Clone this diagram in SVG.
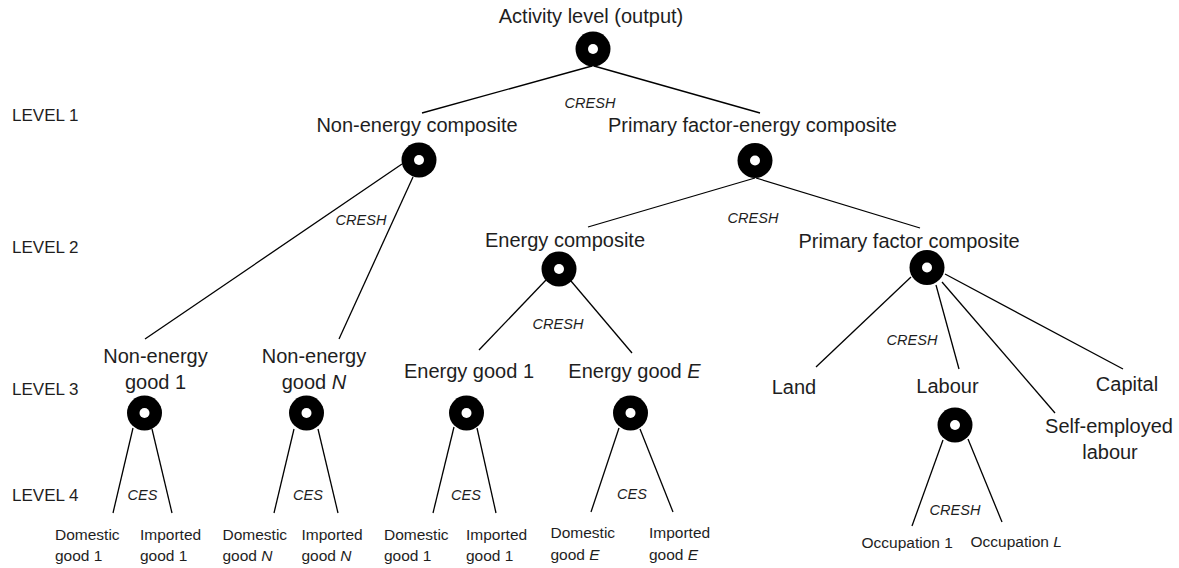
<svg xmlns="http://www.w3.org/2000/svg" width="1179" height="568" viewBox="0 0 1179 568">
<style>
text{font-family:"Liberation Sans",Arial,sans-serif;fill:#1e1e1e}
.lg{font-size:20px;text-anchor:middle}
.sm{font-size:15.5px}
.lv{font-size:17px}
.el{font-size:14.5px;font-style:italic;text-anchor:middle}
.oc{font-size:15.5px}
.c{fill:#000}
.h{fill:#fff}
line{stroke:#000;stroke-width:1.3}
</style>
<defs>
<g id="nest"><circle class="c" r="17.5"/><circle class="h" r="5"/></g>
</defs>
<g id="levels">
<text class="lv" x="12" y="121">LEVEL 1</text>
<text class="lv" x="12" y="253">LEVEL 2</text>
<text class="lv" x="12" y="395">LEVEL 3</text>
<text class="lv" x="12" y="501">LEVEL 4</text>
</g>
<g id="connectors">
<line x1="592" y1="66" x2="422" y2="113"/>
<line x1="594" y1="66" x2="760" y2="113"/>
<line x1="402" y1="164" x2="145" y2="339"/>
<line x1="413" y1="177" x2="339" y2="339"/>
<line x1="755" y1="178" x2="588" y2="227"/>
<line x1="756" y1="178" x2="920" y2="228"/>
<line x1="546" y1="280" x2="479" y2="350"/>
<line x1="571" y1="281" x2="632" y2="353"/>
<line x1="911" y1="277" x2="816" y2="367"/>
<line x1="936" y1="285" x2="959" y2="369"/>
<line x1="942" y1="282" x2="1055" y2="413"/>
<line x1="945" y1="274" x2="1123" y2="369"/>
<line x1="133" y1="428" x2="113" y2="513"/>
<line x1="152" y1="429" x2="172" y2="513"/>
<line x1="294" y1="429" x2="274" y2="513"/>
<line x1="318" y1="429" x2="338" y2="513"/>
<line x1="454" y1="427" x2="433" y2="513"/>
<line x1="477" y1="428" x2="496" y2="513"/>
<line x1="619" y1="428" x2="591" y2="512"/>
<line x1="640" y1="429" x2="673" y2="512"/>
<line x1="943" y1="440" x2="912" y2="526"/>
<line x1="968" y1="439" x2="1002" y2="522"/>
</g>
<g id="nest-labels">
<text class="el" x="590" y="108">CRESH</text>
<text class="el" x="361" y="225">CRESH</text>
<text class="el" x="753" y="223">CRESH</text>
<text class="el" x="558" y="329">CRESH</text>
<text class="el" x="912" y="345">CRESH</text>
<text class="el" x="955" y="515">CRESH</text>
<text class="el" x="142.5" y="500">CES</text>
<text class="el" x="308" y="500">CES</text>
<text class="el" x="466" y="500">CES</text>
<text class="el" x="632" y="499">CES</text>
</g>
<g id="activity"><text class="lg" x="591" y="23">Activity level (output)</text><use href="#nest" x="593" y="49"/></g>
<g id="non-energy-composite"><text class="lg" x="417" y="132">Non-energy composite</text><use href="#nest" x="419" y="160"/></g>
<g id="pf-energy-composite"><text class="lg" x="752.5" y="132">Primary factor-energy composite</text><use href="#nest" x="755" y="160.5"/></g>
<g id="energy-composite"><text class="lg" x="565" y="247">Energy composite</text><use href="#nest" x="559" y="269"/></g>
<g id="pf-composite"><text class="lg" x="909" y="248">Primary factor composite</text><use href="#nest" x="927" y="267.5"/></g>
<g id="neg1"><text class="lg" x="155.5" y="363">Non-energy</text><text class="lg" x="155.5" y="389">good 1</text><use href="#nest" x="144.5" y="413"/></g>
<g id="negN"><text class="lg" x="314" y="363">Non-energy</text><text class="lg" x="314" y="389">good <tspan font-style="italic">N</tspan></text><use href="#nest" x="306.5" y="413"/></g>
<g id="eg1"><text class="lg" x="469" y="378">Energy good 1</text><use href="#nest" x="466.5" y="413"/></g>
<g id="egE"><text class="lg" x="634.5" y="378">Energy good <tspan font-style="italic">E</tspan></text><use href="#nest" x="630.5" y="413"/></g>
<g id="land"><text class="lg" x="794" y="394">Land</text></g>
<g id="labour"><text class="lg" x="947.5" y="393">Labour</text><use href="#nest" x="955" y="425"/></g>
<g id="capital"><text class="lg" x="1127" y="391">Capital</text></g>
<g id="self-employed"><text class="lg" x="1109" y="433">Self-employed</text><text class="lg" x="1110" y="459">labour</text></g>
<g id="dom-neg1"><text class="sm" x="55" y="540">Domestic</text><text class="sm" x="55" y="561">good 1</text></g>
<g id="imp-neg1"><text class="sm" x="140" y="540">Imported</text><text class="sm" x="140" y="561">good 1</text></g>
<g id="dom-negN"><text class="sm" x="222.5" y="540">Domestic</text><text class="sm" x="222.5" y="561">good <tspan font-style="italic">N</tspan></text></g>
<g id="imp-negN"><text class="sm" x="301.5" y="540">Imported</text><text class="sm" x="301.5" y="561">good <tspan font-style="italic">N</tspan></text></g>
<g id="dom-eg1"><text class="sm" x="384" y="540">Domestic</text><text class="sm" x="384" y="561">good 1</text></g>
<g id="imp-eg1"><text class="sm" x="466" y="540">Imported</text><text class="sm" x="466" y="561">good 1</text></g>
<g id="dom-egE"><text class="sm" x="550.5" y="538">Domestic</text><text class="sm" x="550.5" y="560">good <tspan font-style="italic">E</tspan></text></g>
<g id="imp-egE"><text class="sm" x="649" y="538">Imported</text><text class="sm" x="649" y="560">good <tspan font-style="italic">E</tspan></text></g>
<g id="occ1"><text class="oc" x="861.5" y="548">Occupation 1</text></g>
<g id="occL"><text class="oc" x="970.5" y="547">Occupation <tspan font-style="italic">L</tspan></text></g>
</svg>
